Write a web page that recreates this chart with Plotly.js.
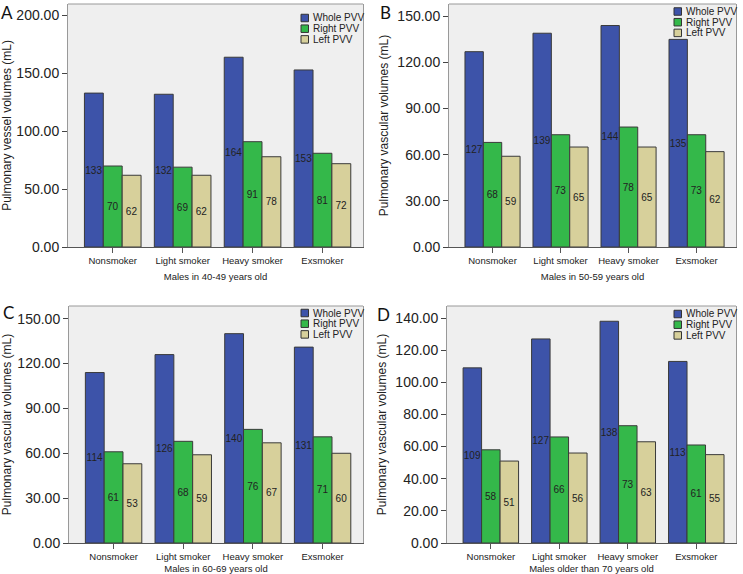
<!DOCTYPE html>
<html><head><meta charset="utf-8">
<script src="https://cdn.plot.ly/plotly-3.0.1.min.js"></script>
<style>html,body{margin:0;padding:0;background:#fff}</style>
</head><body><div id="chart" style="width:743px;height:574px"></div>
<script>
const categories = ["Nonsmoker", "Light smoker", "Heavy smoker", "Exsmoker"];
const seriesNames = ["Whole PVV", "Right PVV", "Left PVV"];

const wholeA = [133, 132, 164, 153];
const rightA = [70, 69, 91, 81];
const leftA  = [62, 62, 78, 72];

const wholeB = [127, 139, 144, 135];
const rightB = [68, 73, 78, 73];
const leftB  = [59, 65, 65, 62];

const wholeC = [114, 126, 140, 131];
const rightC = [61, 68, 76, 71];
const leftC  = [53, 59, 67, 60];

const wholeD = [109, 127, 138, 113];
const rightD = [58, 66, 73, 61];
const leftD  = [51, 56, 63, 55];

const panelLetters = ["A", "B", "C", "D"];
const xTitles = ["Males in 40-49 years old", "Males in 50-59 years old", "Males in 60-69 years old", "Males older than 70 years old"];
const yTitles = ["Pulmonary vessel volumes (mL)", "Pulmonary vascular volumes (mL)", "Pulmonary vascular volumes (mL)", "Pulmonary vascular volumes (mL)"];
const yTickVals = [[0, 50, 100, 150, 200], [0, 30, 60, 90, 120, 150], [0, 30, 60, 90, 120, 150], [0, 20, 40, 60, 80, 100, 120, 140]];

const panelData = [[wholeA, rightA, leftA], [wholeB, rightB, leftB], [wholeC, rightC, leftC], [wholeD, rightD, leftD]];

// layout geometry (pixels)
const W = 743, H = 574;
const colors = ["#3d53a9", "#34b84a", "#d7d09b"];
const yMax = [210, 158, 158.5, 147.5];
const boxes = [
  {l: 68, r: 363, t: 4, b: 247},
  {l: 449, r: 736, t: 4, b: 247},
  {l: 69, r: 363, t: 306, b: 543},
  {l: 447, r: 736, t: 306, b: 543}
];
const legendTop = [14, 7.5, 7, 8];
const letterPos = [{x: 7, y: 0}, {x: 385, y: 0}, {x: 8, y: 300}, {x: 383, y: 302}];
const FONT = "Liberation Sans, Arial, sans-serif";

const traces = [];
const layout = {
  width: W, height: H,
  margin: {l: 0, r: 0, t: 0, b: 0},
  paper_bgcolor: "#ffffff",
  plot_bgcolor: "#efefef",
  barmode: "group",
  bargap: 0.19,
  bargroupgap: 0,
  showlegend: false,
  font: {family: FONT, color: "#222"},
  annotations: [],
  shapes: []
};

panelData.forEach((series, i) => {
  const sfx = i === 0 ? "" : String(i + 1);
  const bx = boxes[i];
  series.forEach((vals, s) => {
    traces.push({
      type: "bar",
      name: seriesNames[s],
      x: categories,
      y: vals,
      xaxis: "x" + sfx,
      yaxis: "y" + sfx,
      marker: {color: colors[s], line: {color: "#3a3a3a", width: 1}},
      text: vals.map(v => String(v)),
      textposition: "inside",
      insidetextanchor: "middle",
      constraintext: "none",
      textangle: 0,
      textfont: {size: 10, color: "#222", family: FONT},
      hoverinfo: "x+y+name"
    });
    // legend swatch + label (drawn as layout decorations)
    const cy = bx.t + legendTop[i] + s * 10.7;
    const sx = bx.r - 62;
    layout.shapes.push({
      type: "rect", xref: "paper", yref: "paper",
      x0: sx / W, x1: (sx + 7.5) / W,
      y0: 1 - (cy - 3.75) / H, y1: 1 - (cy + 3.75) / H,
      fillcolor: colors[s], line: {color: "#333", width: 1}
    });
    layout.annotations.push({
      text: seriesNames[s], xref: "paper", yref: "paper",
      x: (sx + 9.5) / W, y: 1 - cy / H,
      xanchor: "left", yanchor: "middle", showarrow: false,
      font: {size: 10, family: FONT, color: "#222"}
    });
  });
  layout["xaxis" + sfx] = {
    domain: [bx.l / W, bx.r / W],
    anchor: "y" + sfx,
    range: [-0.64, 3.58],
    showline: true, linecolor: "#555", linewidth: 1,
    ticks: "outside", ticklen: 5, tickcolor: "#555",
    tickfont: {size: 9.5, family: FONT, color: "#222"},
    title: {text: xTitles[i], font: {size: 9.5, family: FONT, color: "#222"}, standoff: 7},
    showgrid: false, zeroline: false, fixedrange: true
  };
  layout["yaxis" + sfx] = {
    domain: [1 - bx.b / H, 1 - bx.t / H],
    anchor: "x" + sfx,
    range: [0, yMax[i]],
    tickvals: yTickVals[i],
    tickformat: ".2f",
    showline: true, mirror: true, linecolor: "#999", linewidth: 1,
    ticks: "outside", ticklen: 5, tickcolor: "#444",
    tickfont: {size: 14, family: FONT, color: "#222"},
    title: {text: yTitles[i], font: {size: 12, family: FONT, color: "#222"}, standoff: 6},
    showgrid: false, zeroline: false, fixedrange: true
  };
  layout.shapes.push({
    type: "line", xref: "x" + sfx + " domain", yref: "y" + sfx + " domain",
    x0: 0, x1: 1, y0: 1, y1: 1, line: {color: "#999", width: 1}
  });
  layout.annotations.push({
    text: panelLetters[i], xref: "paper", yref: "paper",
    x: letterPos[i].x / W, y: 1 - letterPos[i].y / H,
    xanchor: "center", yanchor: "top", showarrow: false,
    font: {size: 17, family: "Lato, sans-serif", color: "#111"}
  });
});

Plotly.newPlot("chart", traces, layout, {displayModeBar: false, staticPlot: true});
</script>
</body></html>
